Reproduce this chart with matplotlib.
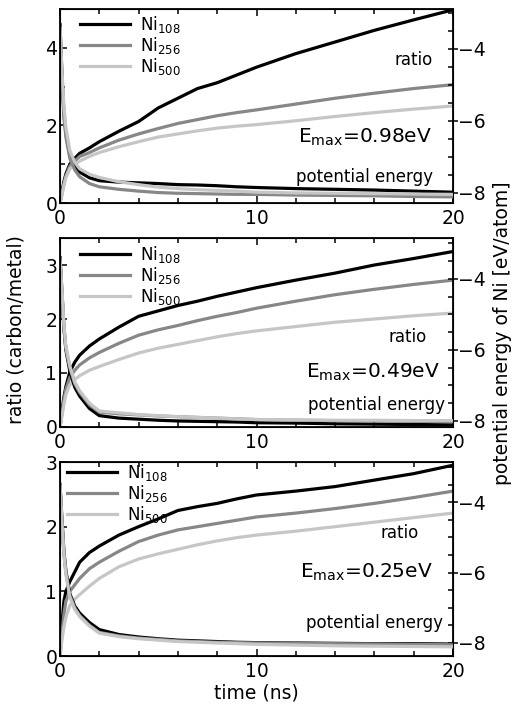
import matplotlib.pyplot as plt
from matplotlib.ticker import MultipleLocator

plt.rcParams['font.family'] = ['DejaVu Sans']
plt.rcParams['mathtext.default'] = 'regular'

# time axis (ns), shared by all curves
time = [0, 0.1, 0.2, 0.3, 0.5, 0.75, 1, 1.5, 2, 3, 4, 5, 6, 7, 8, 9, 10, 12, 14, 16, 18, 20]

# --- Emax = 0.98 eV ---
ratio_098_ni108 = [0, 0.3, 0.55, 0.75, 1.0, 1.15, 1.28, 1.42, 1.58, 1.85, 2.1, 2.45, 2.7, 2.95, 3.1, 3.3, 3.5, 3.85, 4.15, 4.45, 4.72, 4.98]
ratio_098_ni256 = [0, 0.25, 0.5, 0.7, 0.95, 1.08, 1.2, 1.3, 1.42, 1.62, 1.78, 1.92, 2.05, 2.15, 2.25, 2.33, 2.4, 2.55, 2.7, 2.83, 2.95, 3.05]
ratio_098_ni500 = [0, 0.2, 0.45, 0.65, 0.88, 1.0, 1.08, 1.2, 1.3, 1.45, 1.58, 1.7, 1.78, 1.86, 1.93, 1.98, 2.02, 2.12, 2.23, 2.33, 2.42, 2.5]
epot_098_ni108 = [-3.32, -4.72, -5.80, -6.34, -6.93, -7.25, -7.42, -7.58, -7.66, -7.70, -7.72, -7.74, -7.77, -7.78, -7.80, -7.83, -7.85, -7.88, -7.90, -7.92, -7.95, -7.98]
epot_098_ni256 = [-3.43, -4.83, -5.91, -6.45, -7.04, -7.36, -7.55, -7.74, -7.83, -7.90, -7.95, -7.99, -8.01, -8.02, -8.03, -8.04, -8.04, -8.06, -8.07, -8.08, -8.10, -8.11]
epot_098_ni500 = [-3.43, -4.61, -5.58, -6.18, -6.82, -7.15, -7.33, -7.48, -7.57, -7.69, -7.77, -7.84, -7.88, -7.91, -7.93, -7.95, -7.98, -8.00, -8.01, -8.02, -8.03, -8.04]

# --- Emax = 0.49 eV ---
ratio_049_ni108 = [0, 0.3, 0.55, 0.75, 1.02, 1.2, 1.33, 1.5, 1.63, 1.85, 2.05, 2.15, 2.25, 2.33, 2.42, 2.5, 2.58, 2.72, 2.85, 3.0, 3.12, 3.25]
ratio_049_ni256 = [0, 0.25, 0.5, 0.7, 0.92, 1.05, 1.15, 1.28, 1.38, 1.55, 1.7, 1.8, 1.88, 1.97, 2.05, 2.12, 2.2, 2.33, 2.45, 2.55, 2.64, 2.72]
ratio_049_ni500 = [0, 0.2, 0.42, 0.6, 0.78, 0.88, 0.95, 1.05, 1.12, 1.25, 1.37, 1.46, 1.53, 1.6, 1.67, 1.73, 1.78, 1.86, 1.94, 2.0, 2.06, 2.11]
epot_049_ni108 = [-3.4, -4.4, -5.4, -6.0, -6.6, -7.05, -7.3, -7.65, -7.85, -7.92, -7.95, -7.98, -8.0, -8.01, -8.02, -8.03, -8.05, -8.06, -8.08, -8.09, -8.1, -8.11]
epot_049_ni256 = [-3.45, -4.35, -5.35, -5.95, -6.5, -6.95, -7.2, -7.55, -7.75, -7.8, -7.83, -7.86, -7.88, -7.9, -7.92, -7.94, -7.96, -7.98, -7.99, -8.0, -8.01, -8.02]
epot_049_ni500 = [-3.5, -4.3, -5.3, -5.9, -6.45, -6.9, -7.15, -7.5, -7.72, -7.77, -7.82, -7.85, -7.88, -7.9, -7.92, -7.94, -7.96, -7.97, -7.98, -7.98, -7.99, -7.99]

# --- Emax = 0.25 eV ---
ratio_025_ni108 = [0, 0.5, 0.85, 1.0, 1.15, 1.3, 1.45, 1.6, 1.7, 1.87, 2.0, 2.12, 2.25, 2.31, 2.36, 2.43, 2.49, 2.55, 2.62, 2.72, 2.82, 2.95]
ratio_025_ni256 = [0, 0.35, 0.65, 0.85, 1.0, 1.1, 1.2, 1.35, 1.45, 1.62, 1.77, 1.87, 1.95, 2.0, 2.05, 2.1, 2.15, 2.21, 2.28, 2.36, 2.45, 2.55]
ratio_025_ni500 = [0, 0.25, 0.45, 0.6, 0.78, 0.88, 0.95, 1.08, 1.2, 1.38, 1.5, 1.58, 1.65, 1.72, 1.78, 1.83, 1.87, 1.93, 2.0, 2.07, 2.14, 2.21]
epot_025_ni108 = [-3.5, -4.5, -5.4, -5.95, -6.6, -6.95, -7.15, -7.42, -7.62, -7.76, -7.83, -7.88, -7.92, -7.94, -7.96, -7.98, -7.99, -8.0, -8.01, -8.02, -8.02, -8.03]
epot_025_ni256 = [-3.5, -4.55, -5.45, -6.0, -6.65, -7.0, -7.22, -7.5, -7.7, -7.8, -7.86, -7.9, -7.94, -7.96, -7.98, -7.99, -8.0, -8.01, -8.02, -8.03, -8.04, -8.05]
epot_025_ni500 = [-3.55, -4.6, -5.5, -6.05, -6.7, -7.05, -7.25, -7.52, -7.72, -7.82, -7.88, -7.92, -7.96, -7.98, -8.0, -8.02, -8.04, -8.06, -8.08, -8.09, -8.1, -8.11]

labels = ['Ni$_{108}$', 'Ni$_{256}$', 'Ni$_{500}$']
colors = ['black', '#878787', '#c6c6c6']
emax_labels = ['0.98', '0.49', '0.25']

W, H = 515, 708
fig = plt.figure(figsize=(W / 100, H / 100), dpi=100)


def px_box(left, top, right, bottom):
    return [left / W, 1 - bottom / H, (right - left) / W, (bottom - top) / H]


panels = [
    dict(box=px_box(60, 9, 453, 203),
         ratios=[ratio_098_ni108, ratio_098_ni256, ratio_098_ni500],
         epots=[epot_098_ni108, epot_098_ni256, epot_098_ni500],
         ylim=(0, 5), ymaj=2, ymin=1, y2lim=(-8.28, -2.89),
         leg=(0.051, 0.975), txt=[(0.949, 0.737), (0.947, 0.34), (0.949, 0.134)]),
    dict(box=px_box(60, 238, 453, 427),
         ratios=[ratio_049_ni108, ratio_049_ni256, ratio_049_ni500],
         epots=[epot_049_ni108, epot_049_ni256, epot_049_ni500],
         ylim=(0, 3.5), ymaj=1, ymin=None, y2lim=(-8.17, -2.85),
         leg=(0.051, 0.97), txt=[(0.934, 0.476), (0.967, 0.291), (0.98, 0.116)]),
    dict(box=px_box(60, 462, 453, 656),
         ratios=[ratio_025_ni108, ratio_025_ni256, ratio_025_ni500],
         epots=[epot_025_ni108, epot_025_ni256, epot_025_ni500],
         ylim=(0, 3), ymaj=1, ymin=None, y2lim=(-8.37, -2.86),
         leg=(0.018, 1.0), txt=[(0.913, 0.634), (0.949, 0.433), (0.975, 0.17)]),
]

for p, emax in zip(panels, emax_labels):
    ax = fig.add_axes(p['box'])
    ax2 = ax.twinx()

    for r, lab, c in zip(p['ratios'], labels, colors):
        ax.plot(time, r, color=c, lw=2.3, label=lab)
    for e, c in zip(p['epots'], colors):
        ax2.plot(time, e, color=c, lw=2.3)

    ax.set_xlim(0, 20)
    ax.set_ylim(*p['ylim'])
    ax2.set_ylim(*p['y2lim'])

    ax.xaxis.set_major_locator(MultipleLocator(10))
    ax.xaxis.set_minor_locator(MultipleLocator(2))
    ax.yaxis.set_major_locator(MultipleLocator(p['ymaj']))
    if p['ymin']:
        ax.yaxis.set_minor_locator(MultipleLocator(p['ymin']))
    ax2.yaxis.set_major_locator(MultipleLocator(2))
    ax2.yaxis.set_minor_locator(MultipleLocator(0.5))

    ax.tick_params(which='both', direction='in', top=True, right=False, labelsize=13.5, width=1.1, pad=2)
    ax.tick_params(which='major', length=5)
    ax.tick_params(which='minor', length=3.5)
    ax.tick_params(axis='x', pad=4)
    ax2.tick_params(which='major', direction='inout', length=7, width=1.1, labelsize=13.5, pad=0)
    ax2.tick_params(which='minor', direction='in', length=3.5, width=1.1)
    ax2.yaxis.set_major_formatter(plt.FuncFormatter(lambda v, pos: '\u2212%d' % abs(v) if v < 0 else '%d' % v))

    for s in ax.spines.values():
        s.set_linewidth(1.3)

    ax.legend(loc='upper left', bbox_to_anchor=p['leg'], frameon=False, fontsize=12,
              handlelength=3.0, handletextpad=0.6, labelspacing=0.0, borderpad=0, borderaxespad=0)

    (rx, ry), (ex, ey), (px, py) = p['txt']
    ax.text(rx, ry, 'ratio', transform=ax.transAxes, ha='right', va='center', fontsize=12)
    ax.text(ex, ey, 'E$_{max}$=%seV' % emax, transform=ax.transAxes, ha='right', va='center', fontsize=14.5)
    ax.text(px, py, 'potential energy', transform=ax.transAxes, ha='right', va='center', fontsize=12)

fig.text(16 / W, 1 - 330 / H, 'ratio (carbon/metal)', rotation=90, ha='center', va='center', fontsize=13.5)
fig.text(503 / W, 1 - 333 / H, 'potential energy of Ni [eV/atom]', rotation=90, ha='center', va='center', fontsize=13.5)
fig.text(256 / W, 1 - 693 / H, 'time (ns)', ha='center', va='center', fontsize=13.5)

fig.savefig('out.png', dpi=100)
